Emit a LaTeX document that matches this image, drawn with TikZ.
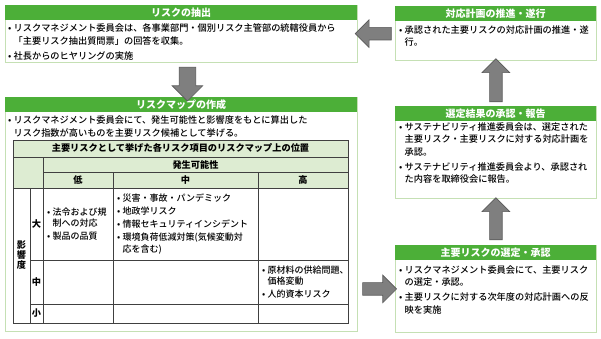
\documentclass[tikz,border=0pt]{standalone}
\usepackage{fontspec}
\setmainfont{Noto Sans CJK JP}
\newfontfamily\medfont{Noto Sans CJK JP Medium}
\definecolor{headGreen}{RGB}{76, 175, 56}
\definecolor{frameGreen}{RGB}{197, 224, 180}
\definecolor{cellGreen}{RGB}{221, 236, 210}
\definecolor{arrowGray}{RGB}{127, 127, 127}
\definecolor{arrowEdge}{RGB}{89, 89, 89}
\definecolor{gridGray}{RGB}{64, 64, 64}
\usetikzlibrary{shapes.arrows, calc, positioning}
\newcommand{\bul}{\makebox[5.5pt][l]{•}}
\newcommand{\cont}{\hspace*{5.5pt}}

\begin{document}
\begin{tikzpicture}[
      x=1pt, y=-1pt,
      panel/.style={rectangle, draw=frameGreen, line width=0.8pt, fill=white, anchor=north west, inner sep=0pt},
      panelhead/.style={rectangle, fill=headGreen, anchor=north west, inner sep=0pt, minimum height=15pt, text=white, font=\fontsize{10}{12}\selectfont\bfseries},
      bodytext/.style={anchor=north west, inner sep=0pt, align=left, font=\fontsize{9.2}{12.5}\selectfont\medfont},
      celltext/.style={anchor=west, inner sep=0pt, align=left, font=\fontsize{9}{11.5}\selectfont\medfont},
      cellhead/.style={inner sep=0pt, font=\fontsize{9.2}{11}\selectfont\bfseries},
      grid/.style={draw=gridGray, line width=0.6pt},
      blockarrow/.style={single arrow, draw=arrowEdge, fill=arrowGray, line width=0.6pt, inner xsep=0pt, inner ysep=6pt, single arrow head extend=7.5pt, minimum width=0pt}
    ]
      \useasboundingbox (0,0) rectangle (601,338);

      % Left Column: Extraction and Risk Map
      \node[panel, minimum width=352pt, minimum height=57pt] (extract) at (5,5) {};
      \node[panelhead, minimum width=352pt] (extracthead) at (extract.north west) {リスクの抽出};
      \node[bodytext] (extracttext) at (8,23.5) {\bul リスクマネジメント委員会は、各事業部門・個別リスク主管部の統轄役員から\\\cont 「主要リスク抽出質問票」の回答を収集。\\[2.5pt]\bul 社長からのヒヤリングの実施};

      \node[panel, minimum width=352pt, minimum height=234pt] (riskmap) at (5,97) {};
      \node[panelhead, minimum width=352pt] (riskmaphead) at (riskmap.north west) {リスクマップの作成};
      \node[bodytext] (riskmaptext) at (8,115.5) {\bul リスクマネジメント委員会にて、発生可能性と影響度をもとに算出した\\\cont リスク指数が高いものを主要リスク候補として挙げる。};

      % Risk Map Table
      \fill[cellGreen] (13,140) rectangle (348,188);
      \draw[grid] (13,140) rectangle (348,323);
      \draw[grid] (13,157) -- (348,157);
      \draw[grid] (43,172) -- (348,172);
      \draw[grid] (13,188) -- (348,188);
      \draw[grid] (30,260) -- (348,260);
      \draw[grid] (30,304) -- (348,304);
      \draw[grid] (30,188) -- (30,323);
      \draw[grid] (43,157) -- (43,323);
      \draw[grid] (113,172) -- (113,323);
      \draw[grid] (258,172) -- (258,323);

      \node[cellhead] (maptitle) at (180.5,148.5) {主要リスクとして挙げた各リスク項目のリスクマップ上の位置};
      \node[cellhead] (likelihood) at (195.5,164.5) {発生可能性};
      \node[cellhead] (likelow) at (78,180) {低};
      \node[cellhead] (likemid) at (185.5,180) {中};
      \node[cellhead] (likehigh) at (303,180) {高};
      \node[cellhead, align=center, font=\fontsize{9.2}{10}\selectfont\bfseries] (impact) at (21.5,255) {影\\響\\度};
      \node[cellhead] (impactbig) at (36.5,224) {大};
      \node[cellhead] (impactmid) at (36.5,282) {中};
      \node[cellhead] (impactsmall) at (36.5,313.5) {小};

      \node[celltext] (biglow) at (47,224) {\bul 法令および規\\\cont 制への対応\\[1.5pt]\bul 製品の品質};
      \node[celltext] (bigmid) at (117,224) {\bul 災害・事故・パンデミック\\[1.5pt]\bul 地政学リスク\\[1.5pt]\bul 情報セキュリティインシデント\\[1.5pt]\bul 環境負荷低減対策(気候変動対\\\cont 応を含む)};
      \node[celltext] (midhigh) at (262,282) {\bul 原材料の供給問題、\\\cont 価格変動\\[1.5pt]\bul 人的資本リスク};

      % Right Column: Selection, Approval, Promotion
      \node[panel, minimum width=201pt, minimum height=54pt] (plan) at (395,6) {};
      \node[panelhead, minimum width=201pt] (planhead) at (plan.north west) {対応計画の推進・遂行};
      \node[bodytext] (plantext) at (399,25.5) {\bul 承認された主要リスクの対応計画の推進・遂\\\cont 行。};

      \node[panel, minimum width=201pt, minimum height=92pt] (approve) at (395,106) {};
      \node[panelhead, minimum width=201pt] (approvehead) at (approve.north west) {選定結果の承認・報告};
      \node[bodytext] (approvetext) at (399,122.5) {\bul サステナビリティ推進委員会は、選定された\\\cont 主要リスク・主要リスクに対する対応計画を\\\cont 承認。\\[2.5pt]\bul サステナビリティ推進委員会より、承認され\\\cont た内容を取締役会に報告。};

      \node[panel, minimum width=201pt, minimum height=87pt] (select) at (395,245) {};
      \node[panelhead, minimum width=201pt] (selecthead) at (select.north west) {主要リスクの選定・承認};
      \node[bodytext] (selecttext) at (399,265.5) {\bul リスクマネジメント委員会にて、主要リスク\\\cont の選定・承認。\\[2.5pt]\bul 主要リスクに対する次年度の対応計画への反\\\cont 映を実施};

      % Block Arrows
      \node[blockarrow, minimum height=34pt, inner ysep=8pt, single arrow head extend=7pt, rotate=-90] (arrdown) at ($(extract.south)!0.5!(riskmap.north)+(6,0)$) {};
      \node[blockarrow, minimum height=34pt] (arrright) at ($(riskmap.east |- select.west)!0.5!(select.west)$) {};
      \node[blockarrow, minimum height=42pt, rotate=90] (arrupper) at ($(select.north)!0.5!(approve.south)$) {};
      \node[blockarrow, minimum height=43pt, rotate=90] (arrtop) at ($(approve.north)!0.5!(plan.south)$) {};
      \node[blockarrow, minimum height=36pt, rotate=180] (arrleft) at ($(plan.west)!0.5!(extract.east)$) {};
    \end{tikzpicture}
\end{document}
